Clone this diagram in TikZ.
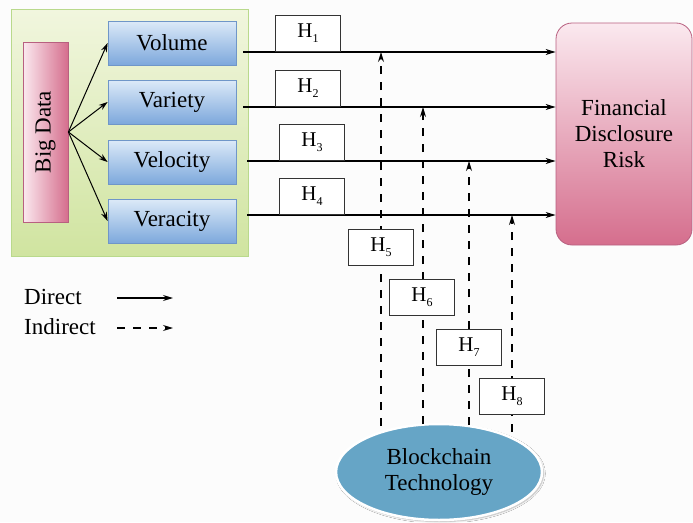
\documentclass[tikz,border=0pt]{standalone}
\usepackage{fontspec}
\usepackage{graphicx}
\setmainfont{Liberation Serif}
\usetikzlibrary{arrows.meta,shadows.blur,shapes.geometric}
\definecolor{bgtop}{HTML}{F1F6DE}
\definecolor{bgbot}{HTML}{D0E4A0}
\definecolor{bgline}{HTML}{B9D98C}
\definecolor{bltop}{HTML}{DCEAF8}
\definecolor{blbot}{HTML}{7DA8DC}
\definecolor{blline}{HTML}{6F96C8}
\definecolor{pklight}{HTML}{FBE9EF}
\definecolor{pkdark}{HTML}{D56E8D}
\definecolor{pkline}{HTML}{B86080}
\definecolor{ellfill}{HTML}{66A5C6}
\newcommand{\hsub}[1]{H\raisebox{-5pt}{\fontsize{12}{12}\selectfont #1}}
\tikzset{
  vbox/.style={draw=blline, line width=0.8pt, top color=bltop, bottom color=blbot,
    minimum width=128pt, minimum height=44pt, inner sep=0pt, font=\fontsize{23}{26}\selectfont},
  hbox/.style={draw=black!80, line width=0.9pt, fill=white, minimum width=65pt, minimum height=36pt,
    inner sep=0pt, font=\fontsize{21}{22}\selectfont},
  direct/.style={line width=1.2pt, -{Stealth[length=10pt,width=6pt]}},
  indirect/.style={line width=1.1pt, dash pattern=on 8pt off 8pt, -{Stealth[length=10pt,width=6pt]}},
  txt/.style={inner sep=0pt, font=\fontsize{23}{26}\selectfont}
}
\begin{document}
\begin{tikzpicture}[x=1pt,y=-1pt]
\useasboundingbox (0,0) rectangle (693,522);
\fill[white!99!black] (0,0) rectangle (693,522);
% green background
\node[draw=bgline, line width=1pt, top color=bgtop, bottom color=bgbot, minimum width=237pt,
  minimum height=247pt, inner sep=0pt, anchor=north west] (bg) at (11,9) {};
% Big Data
\node[draw=pkline, line width=0.8pt, left color=pklight, right color=pkdark, minimum width=45pt,
  minimum height=180pt, inner sep=0pt, font=\fontsize{23}{26}\selectfont] (bd) at (45.5,132) {\rotatebox{90}{Big Data}};
% V boxes
\node[vbox] (vol) at (172,43) {Volume};
\node[vbox] (var) at (172,102) {Variety};
\node[vbox] (vel) at (172,162) {Velocity};
\node[vbox] (ver) at (172,221) {Veracity};
\foreach \n in {vol,var,vel,ver}{\draw[line width=1pt,-{Stealth[length=9pt,width=6pt]}] (bd.east) -- (\n.west);}
% Financial Disclosure Risk
\node[draw=pkline, line width=0.8pt, top color=pklight, bottom color=pkdark, rounded corners=16pt,
  minimum width=136pt, minimum height=222pt, inner sep=0pt, align=center,
  font=\fontsize{23}{26}\selectfont] (fdr) at (624,134) {Financial\\Disclosure\\Risk};
% Blockchain
\node[ellipse, draw=white, line width=2.5pt, fill=ellfill, minimum width=206pt, minimum height=96pt,
  inner sep=0pt, align=center, font=\fontsize{23}{26}\selectfont,
  blur shadow={shadow xshift=1.5pt, shadow yshift=-1.5pt, shadow blur steps=6, shadow opacity=30}] (bc) at (439,472) {Blockchain\\Technology};
% direct lines
\coordinate (s1) at (243,52);
\coordinate (s2) at (243,107);
\coordinate (s3) at (247,161);
\coordinate (s4) at (247,215);
\foreach \s in {1,2,3,4}{\draw[direct] (s\s) -- (fdr.west |- s\s);}
% H boxes
\node[hbox, anchor=south west] (h1) at (275,52) {\hsub{1}};
\node[hbox, anchor=south west] (h2) at (275,107) {\hsub{2}};
\node[hbox, anchor=south west] (h3) at (279,161) {\hsub{3}};
\node[hbox, anchor=south west] (h4) at (279,215) {\hsub{4}};
% indirect lines
\coordinate (t1) at (381,52);  \coordinate (b1) at (381,426);
\coordinate (t2) at (423,107); \coordinate (b2) at (423,424);
\coordinate (t3) at (469,161); \coordinate (b3) at (469,425);
\coordinate (t4) at (512,215); \coordinate (b4) at (512,432);
\foreach \s in {1,2,3,4}{\draw[indirect] (b\s) -- (t\s);}
\node[hbox, anchor=north west] (h5) at (348,229) {\hsub{5}};
\node[hbox, anchor=north west] (h6) at (389,279) {\hsub{6}};
\node[hbox, anchor=north west] (h7) at (436,329) {\hsub{7}};
\node[hbox, anchor=north west] (h8) at (479,378) {\hsub{8}};
% legend
\node[txt, anchor=west] (ld) at (24,297) {Direct};
\node[txt, anchor=west] (li) at (24,327) {Indirect};
\coordinate (d1) at (117,298); \coordinate (d2) at (173,298);
\coordinate (i1) at (117,328); \coordinate (i2) at (173,328);
\draw[direct] (d1) -- (d2);
\draw[indirect] (i1) -- (i2);
\end{tikzpicture}
\end{document}
